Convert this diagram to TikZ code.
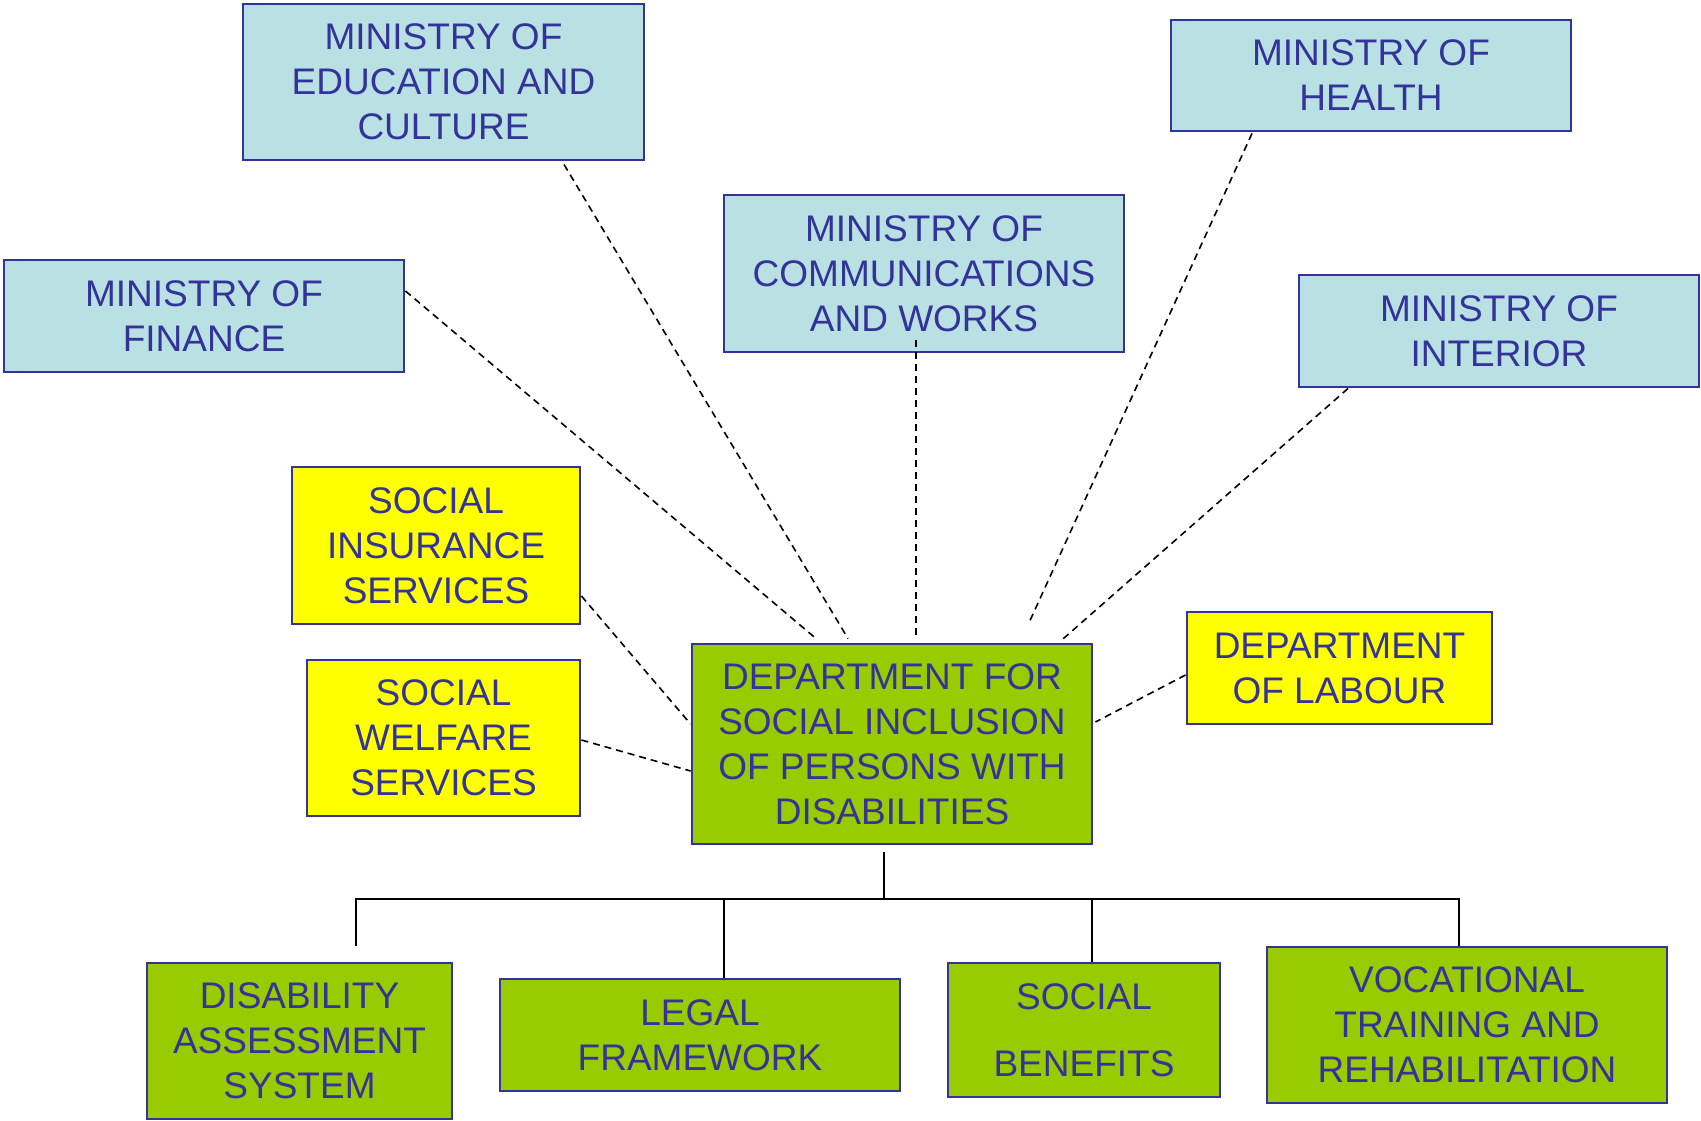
\documentclass[tikz,border=0pt]{standalone}
\usepackage{fontspec}
\setmainfont{Liberation Sans}
\definecolor{navy}{RGB}{51,51,153}
\definecolor{mblue}{RGB}{185,224,227}
\definecolor{myellow}{RGB}{255,255,0}
\definecolor{mgreen}{RGB}{153,204,0}
\begin{document}
\begin{tikzpicture}[x=1pt,y=-1pt,
  box/.style={draw=navy,line width=2.9pt,text=navy,inner sep=0pt,align=center,
    font=\fontsize{37}{45}\selectfont},
  ministry/.style={box,fill=mblue},
  agency/.style={box,fill=myellow},
  unit/.style={box,fill=mgreen},
  link/.style={draw=black,line width=1.6pt,dash pattern=on 7pt off 5pt},
  tree/.style={draw=black,line width=2.2pt}]
\useasboundingbox (0,0) rectangle (1701,1121);
% ministries
\node[ministry,minimum width=401pt,minimum height=156pt] (edu) at (443.5,82) {MINISTRY OF\\EDUCATION AND\\CULTURE};
\node[ministry,minimum width=400pt,minimum height=111pt] (health) at (1371,75.5) {MINISTRY OF\\HEALTH};
\node[ministry,minimum width=400pt,minimum height=157pt] (comm) at (924,273.5) {MINISTRY OF\\COMMUNICATIONS\\AND WORKS};
\node[ministry,minimum width=400pt,minimum height=112pt] (fin) at (204,316) {MINISTRY OF\\FINANCE};
\node[ministry,minimum width=400pt,minimum height=112pt] (int) at (1499,331) {MINISTRY OF\\INTERIOR};
% services
\node[agency,minimum width=288pt,minimum height=157pt] (ins) at (436,545.5) {SOCIAL\\INSURANCE\\SERVICES};
\node[agency,minimum width=273pt,minimum height=156pt] (wel) at (443.5,738) {SOCIAL\\WELFARE\\SERVICES};
\node[agency,minimum width=305pt,minimum height=112pt] (lab) at (1339.5,668) {DEPARTMENT\\OF LABOUR};
% department
\node[unit,minimum width=400pt,minimum height=200pt] (dept) at (892,744) {DEPARTMENT FOR\\SOCIAL INCLUSION\\OF PERSONS WITH\\DISABILITIES};
% sub-units
\node[unit,minimum width=305pt,minimum height=156pt] (dis) at (299.5,1041) {DISABILITY\\ASSESSMENT\\SYSTEM};
\node[unit,minimum width=400pt,minimum height=112pt] (leg) at (700,1035) {LEGAL\\FRAMEWORK};
\node[unit,minimum width=272pt,minimum height=134pt] (ben) at (1084,1030) {SOCIAL\\[22pt]BENEFITS};
\node[unit,minimum width=400pt,minimum height=156pt] (voc) at (1467,1025) {VOCATIONAL\\TRAINING AND\\REHABILITATION};
% dashed links
\draw[link] ([xshift=120.5pt,yshift=-3pt]edu.south) -- ([xshift=-44pt,yshift=4pt]dept.north);
\draw[link] ([yshift=25pt]fin.east) -- ([xshift=-76pt,yshift=4pt]dept.north);
\draw[link] ([xshift=-8pt,yshift=13pt]comm.south) -- ([xshift=24pt,yshift=4pt]dept.north);
\draw[link] ([xshift=-119pt,yshift=-1pt]health.south) -- ([xshift=138pt,yshift=22pt]dept.north);
\draw[link] ([xshift=-151pt]int.south) -- ([xshift=168pt,yshift=1pt]dept.north);
\draw[link] ([yshift=-50.5pt]ins.east) -- ([yshift=20pt]dept.west);
\draw[link] ([yshift=-2pt]wel.east) -- ([yshift=-27pt]dept.west);
\draw[link] ([yshift=-7pt]lab.west) -- ([xshift=2pt,yshift=22pt]dept.east);
% tree
\coordinate (stem) at ([xshift=-8pt,yshift=-7pt]dept.south);
\coordinate (bus) at (884,899);
\coordinate (disdrop) at ([xshift=56.5pt,yshift=15.5pt]dis.north);
\draw[tree] (stem) -- (bus);
\draw[tree] (disdrop) |- (bus) -| ([xshift=-8pt]voc.north);
\draw[tree] ([xshift=24pt]leg.north) -- ++(0,-80);
\draw[tree] ([xshift=8pt]ben.north) -- ++(0,-64);
\end{tikzpicture}
\end{document}
